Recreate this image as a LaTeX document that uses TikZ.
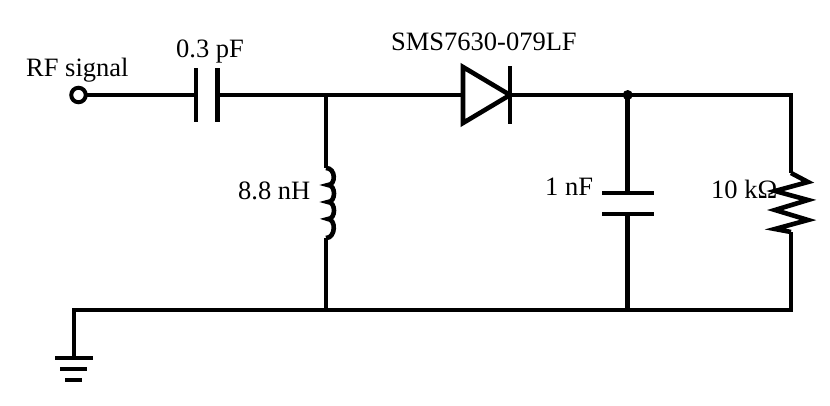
\documentclass[tikz,border=0pt]{standalone}
\usepackage{fontspec}
\setmainfont{Liberation Serif}
\begin{document}
\begin{tikzpicture}[x=1pt,y=-1pt,
  wire/.style={line width=4.6pt,line join=miter,line cap=butt},
  lbl/.style={inner sep=0pt,font=\fontsize{26.5pt}{28pt}\selectfont,text=black}]
\useasboundingbox (0,0) rectangle (830,405);
\fill[white] (0,0) rectangle (830,405);
\coordinate (rf) at (78.5,95);
\coordinate (c1a) at (196,95);
\coordinate (c1b) at (217.5,95);
\coordinate (j1) at (326,95);
\coordinate (da) at (463,95);
\coordinate (dk) at (510,95);
\coordinate (j2) at (627.7,95);
\coordinate (tr) at (791,95);
\coordinate (la) at (326,168);
\coordinate (lb) at (326,238);
\coordinate (c2a) at (627.7,193);
\coordinate (c2b) at (627.7,214);
\coordinate (ra) at (791,173);
\coordinate (rb) at (791,232);
\coordinate (g0) at (74,358);
\coordinate (gl) at (74,310);
\coordinate (j3) at (326,310);
\coordinate (j4) at (627.7,310);
\coordinate (br) at (791,310);
% wires
\draw[wire] (rf) ++(5.5,0) -- (c1a);
\draw[wire] (c1b) -- (j1) -- (da);
\draw[wire] (dk) -- (j2) -- (tr) -- (ra);
\draw[wire] (j1) -- (la);
\draw[wire] (lb) -- (j3);
\draw[wire] (j2) -- (c2a);
\draw[wire] (c2b) -- (j4);
\draw[wire] (rb) -- (br) -- (gl) -- (g0);
% terminal
\node[circle,draw,line width=4pt,minimum size=14.5pt,inner sep=0pt,fill=white] (term) at (rf) {};
% C1
\draw[wire] (196,68) -- (196,122);
\draw[wire] (217.5,68) -- (217.5,122);
% diode
\draw[wire] (463,67) -- (463,123) -- (510,95) -- cycle;
\draw[wire] (510,66) -- (510,124);
\fill (j2) circle (5pt);
% inductor
\draw[wire] (la) .. controls (336,168) and (336,185) .. (328,185)
  .. controls (336,185) and (336,202) .. (328,202)
  .. controls (336,202) and (336,219) .. (328,219)
  .. controls (336,219) and (336,238) .. (lb);
% C2
\draw[wire] (602,193) -- (654,193);
\draw[wire] (602,214) -- (654,214);
% resistor
\draw[wire] (ra) -- (808,182) -- (775,191) -- (808,200) -- (775,210) -- (808,220) -- (775,229) -- (rb);
% ground
\draw[wire] (55,358) -- (93,358);
\draw[wire] (60,369) -- (87,369);
\draw[wire] (65,380) -- (82,380);
% labels
\node[lbl,anchor=base west] (t1) at (26,76) {RF signal};
\node[lbl,anchor=base west] (t2) at (176,57) {0.3 pF};
\node[lbl,anchor=base west] (t3) at (238,199) {8.8 nH};
\node[lbl,anchor=base west] (t4) at (391,50) {SMS7630-079LF};
\node[lbl,anchor=base west] (t5) at (545,195) {1 nF};
\node[lbl,anchor=base west] (t6) at (711,198) {10 kΩ};
\end{tikzpicture}
\end{document}
